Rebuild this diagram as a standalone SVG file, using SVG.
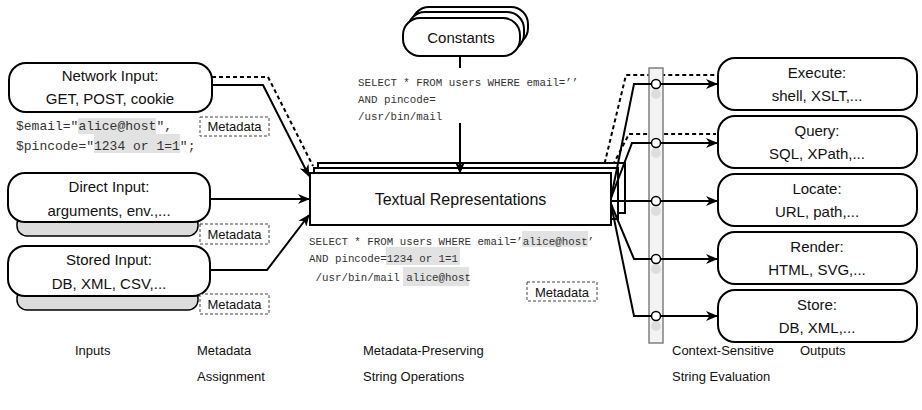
<svg xmlns="http://www.w3.org/2000/svg" width="922" height="410" viewBox="0 0 922 410">
<defs>
  <marker id="arrow" viewBox="0 0 12 10" refX="11" refY="5" markerWidth="12" markerHeight="10" markerUnits="userSpaceOnUse" orient="auto">
    <path d="M0,0 L12,5 L0,10 L3.5,5 z" fill="#000"/>
  </marker>
</defs>
<style>
  .box{fill:#fff;stroke:#000;stroke-width:2}
  .shadow{fill:#dcdcdc;stroke:#000;stroke-width:1.5}
  .lbl{font-family:"Liberation Sans",Arial,sans-serif;font-size:15px;fill:#111;text-anchor:middle}
  .mono{font-family:"Liberation Mono","Courier New",monospace;fill:#333}
  .hl{fill:#e2e2e2}
  .meta rect{fill:#fff;stroke:#444;stroke-width:1;stroke-dasharray:3 2}
  .meta text{font-family:"Liberation Sans",Arial,sans-serif;font-size:13px;fill:#111;text-anchor:middle}
  .conn{fill:none;stroke:#000;stroke-width:2}
  .dash{fill:none;stroke:#000;stroke-width:2;stroke-dasharray:4 3}
  .cap{font-family:"Liberation Sans",Arial,sans-serif;font-size:13px;fill:#111}
  .bar{fill:#f3f3f3;stroke:#808080;stroke-width:1.5}
  .dot{fill:#fff;stroke:#000;stroke-width:1.5}
  .ghost{fill:#dddddd}
</style>

<!-- dashed metadata paths (under the evaluation bar) -->
<g id="meta-paths">
  <path class="dash" d="M212,77 H268 L313,166"/>
  <path class="dash" d="M603,170 L626,75 H716"/>
  <path class="dash" d="M613,165 L629,134 H716"/>
</g>

<!-- context-sensitive evaluation bar -->
<g id="eval-bar">
  <rect class="bar" x="649" y="68" width="14" height="275"/>
</g>

<!-- inputs -->
<g id="network-input">
  <rect class="box" x="9" y="63" width="203" height="49" rx="17"/>
  <text class="lbl" x="110" y="81">Network Input:</text>
  <text class="lbl" x="110" y="104">GET, POST, cookie</text>
</g>
<g id="network-values">
  <rect class="hl" x="78" y="118" width="78" height="16"/>
  <rect class="hl" x="94" y="134" width="86" height="19"/>
  <text class="mono" font-size="13" x="16" y="130">$email="alice@host",</text>
  <text class="mono" font-size="13" x="16" y="150">$pincode="1234 or 1=1";</text>
</g>
<g id="meta-network" class="meta">
  <rect x="200" y="117" width="69" height="19"/>
  <text x="234.5" y="131">Metadata</text>
</g>

<g id="direct-input">
  <rect class="shadow" x="17" y="214" width="181" height="22" rx="10"/>
  <rect class="box" x="8" y="173" width="202" height="49" rx="17"/>
  <text class="lbl" x="109" y="192">Direct Input:</text>
  <text class="lbl" x="109" y="216">arguments, env.,...</text>
</g>
<g id="meta-direct" class="meta">
  <rect x="200" y="224" width="69" height="20"/>
  <text x="234.5" y="239">Metadata</text>
</g>

<g id="stored-input">
  <rect class="shadow" x="17" y="288" width="181" height="22" rx="10"/>
  <rect class="box" x="8" y="246" width="202" height="50" rx="17"/>
  <text class="lbl" x="109" y="265">Stored Input:</text>
  <text class="lbl" x="109" y="289">DB, XML, CSV,...</text>
</g>
<g id="meta-stored" class="meta">
  <rect x="200" y="294" width="69" height="20"/>
  <text x="234.5" y="309">Metadata</text>
</g>

<!-- constants -->
<g id="constants">
  <rect class="box" x="412" y="7" width="116" height="38" rx="17"/>
  <rect class="box" x="408" y="12" width="116" height="39" rx="17"/>
  <rect class="box" x="403" y="18" width="117" height="38" rx="17"/>
  <text class="lbl" x="461" y="43">Constants</text>
</g>
<g id="constant-values" class="mono" font-size="10.8">
  <text x="358" y="86">SELECT * FROM users WHERE email=’’</text>
  <text x="358" y="103">AND pincode=</text>
  <text x="358" y="120">/usr/bin/mail</text>
</g>

<!-- textual representations -->
<g id="textual">
  <rect class="box" x="318" y="163" width="307" height="50"/>
  <rect class="box" x="314" y="168" width="304" height="51"/>
  <rect class="box" x="310" y="173" width="301" height="52"/>
  <text class="lbl" font-size="16" x="460.5" y="205" style="font-size:16px">Textual Representations</text>
</g>
<g id="textual-values">
  <rect class="hl" x="522" y="231" width="66" height="16"/>
  <rect class="hl" x="386" y="247" width="74" height="18"/>
  <rect class="hl" x="403" y="267" width="66" height="19"/>
  <g class="mono" font-size="10.8">
    <text x="309" y="245">SELECT * FROM users WHERE email=’alice@host’</text>
    <text x="309" y="262">AND pincode=1234 or 1=1</text>
    <text x="309" y="281" xml:space="preserve"> /usr/bin/mail alice@host</text>
  </g>
</g>
<g id="meta-textual" class="meta">
  <rect x="527" y="282" width="70" height="19"/>
  <text x="562" y="297">Metadata</text>
</g>

<!-- outputs -->
<g id="execute">
  <rect class="box" x="718" y="58" width="199" height="52" rx="17"/>
  <text class="lbl" x="817" y="78">Execute:</text>
  <text class="lbl" x="817" y="101">shell, XSLT,...</text>
</g>
<g id="query">
  <rect class="box" x="718" y="116" width="199" height="52" rx="17"/>
  <text class="lbl" x="817" y="136">Query:</text>
  <text class="lbl" x="817" y="159">SQL, XPath,...</text>
</g>
<g id="locate">
  <rect class="box" x="718" y="174" width="199" height="52" rx="17"/>
  <text class="lbl" x="817" y="194">Locate:</text>
  <text class="lbl" x="817" y="217">URL, path,...</text>
</g>
<g id="render">
  <rect class="box" x="718" y="232" width="199" height="52" rx="17"/>
  <text class="lbl" x="817" y="252">Render:</text>
  <text class="lbl" x="817" y="275">HTML, SVG,...</text>
</g>
<g id="store">
  <rect class="box" x="718" y="290" width="199" height="52" rx="17"/>
  <text class="lbl" x="817" y="310">Store:</text>
  <text class="lbl" x="817" y="333">DB, XML,...</text>
</g>

<!-- connectors -->
<g id="connectors">
  <path class="conn" d="M212,85 H263 L309,176" marker-end="url(#arrow)"/>
  <path class="conn" d="M210,199 H309" marker-end="url(#arrow)"/>
  <path class="conn" d="M210,270 H267 L309,215" marker-end="url(#arrow)"/>
  <path class="conn" d="M460,56 V68 M460,123 V173" marker-end="url(#arrow)"/>
  <path class="conn" d="M611,198 L634,84 H717" marker-end="url(#arrow)"/>
  <path class="conn" d="M611,198 L632,143 H717" marker-end="url(#arrow)"/>
  <path class="conn" d="M611,201 H717" marker-end="url(#arrow)"/>
  <path class="conn" d="M611,204 L634,259 H717" marker-end="url(#arrow)"/>
  <path class="conn" d="M611,204 L634,316 H717" marker-end="url(#arrow)"/>
</g>

<!-- evaluation points on the bar -->
<g id="eval-points">
  <circle class="ghost" cx="656" cy="94" r="5"/>
  <circle class="ghost" cx="656" cy="153" r="5"/>
  <circle class="ghost" cx="656" cy="211" r="5"/>
  <circle class="ghost" cx="656" cy="269" r="5"/>
  <circle class="ghost" cx="656" cy="326" r="5"/>
  <circle class="dot" cx="656" cy="84" r="4.5"/>
  <circle class="dot" cx="656" cy="143" r="4.5"/>
  <circle class="dot" cx="656" cy="201" r="4.5"/>
  <circle class="dot" cx="656" cy="259" r="4.5"/>
  <circle class="dot" cx="656" cy="316" r="4.5"/>
</g>

<!-- stage captions -->
<g id="captions" class="cap">
  <text x="75" y="355">Inputs</text>
  <text x="197" y="355">Metadata</text>
  <text x="197" y="381">Assignment</text>
  <text x="363" y="355">Metadata-Preserving</text>
  <text x="363" y="381">String Operations</text>
  <text x="672" y="355">Context-Sensitive</text>
  <text x="672" y="381">String Evaluation</text>
  <text x="800" y="355">Outputs</text>
</g>
</svg>
